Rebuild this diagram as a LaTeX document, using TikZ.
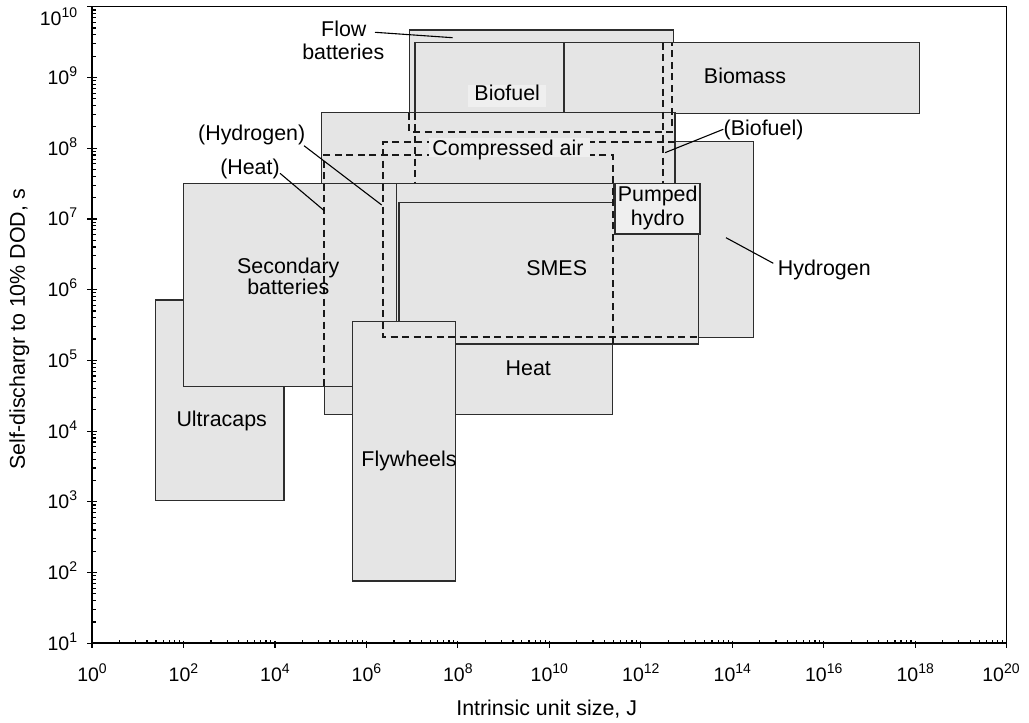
\documentclass[tikz,border=0pt]{standalone}
\usepackage{fontspec}
\setmainfont{Liberation Sans}
\definecolor{boxfill}{RGB}{229,229,229}
\definecolor{lightfill}{RGB}{239,239,239}
\definecolor{boxline}{RGB}{45,45,45}
\newcommand{\lblfont}{\fontsize{10.7}{12}\selectfont}
\newcommand{\tickfont}{\fontsize{9.75}{11}\selectfont}
\newcommand{\tenp}[1]{10\raisebox{4pt}{\fontsize{7}{8}\selectfont #1}}
\begin{document}
\begin{tikzpicture}[x=0.5pt,y=-0.5pt,
  box/.style={fill=boxfill,draw=boxline,line width=0.7pt},
  edge/.style={draw=boxline,line width=0.7pt},
  hid/.style={draw=black!90,line width=0.9pt,dash pattern=on 3.5pt off 2.25pt},
  lbl/.style={font=\lblfont,inner sep=0pt,anchor=base},
  leader/.style={draw=black,line width=0.55pt},
  tick/.style={draw=black,line width=0.6pt},
  ticklbl/.style={font=\tickfont,inner sep=0pt}]
\useasboundingbox (0,0) rectangle (1029,723);

% ---- boxes, back to front ----
\path[box] (383.3,141.7) rectangle (753.3,337.3); % hydrogen
\path[box] (409.3,30) rectangle (673.3,131.7);    % flow batteries
\path[box] (415,42.7) rectangle (663.3,183.3);    % biofuel
\path[box] (564,42.7) rectangle (919.3,113.3);    % biomass
\path[box] (324.3,155) rectangle (612.7,414.3);   % heat
\path[box] (321.7,112.7) rectangle (675,183.3);   % compressed air
\path[box] (155.7,300) rectangle (284,500.3);     % ultracaps
\path[box] (183.3,183.3) rectangle (396.7,386.7); % secondary batteries
\path[box] (396.7,183.3) rectangle (698.3,344);   % pumped hydro
\fill[boxfill] (399,202.7) rectangle (613.3,337); % SMES
\draw[edge] (399,321.7) -- (399,202.7) -- (613.3,202.7) -- (613.3,183.3);
\path[box] (352.7,321.7) rectangle (455.7,581);   % flywheels
\path[box,fill=lightfill] (615,183.3) rectangle (700,234); % pumped hydro label box

% ---- hidden edges ----
\draw[hid] (409.3,112.7) -- (409.3,131.7) -- (672.3,131.7) -- (672.3,42.7);
\draw[hid] (415,112.7) -- (415,183.3);
\draw[hid] (663.3,42.7) -- (663.3,183.3);
\draw[hid] (675,141.7) -- (383.3,141.7) -- (383.3,337.3) -- (698.3,337.3);
\draw[hid] (612.7,344) -- (612.7,155) -- (324.3,155) -- (324.3,386.7);

% ---- label backgrounds ----
\fill[lightfill] (429,138) rectangle (590,157);
\fill[lightfill] (468,85) rectangle (546,106.7);

% ---- box labels ----
\node[lbl] (ucap) at (221.7,426) {Ultracaps};
\node[lbl] (sec1) at (288.3,273.5) {Secondary};
\node[lbl] (sec2) at (288.3,294.3) {batteries};
\node[lbl] (smes) at (556.7,275) {SMES};
\node[lbl] (heat) at (528.3,375) {Heat};
\node[lbl] (fly) at (409,466.7) {Flywheels};
\node[lbl] (ph1) at (657.7,201.7) {Pumped};
\node[lbl] (ph2) at (657.7,225) {hydro};
\node[lbl] (cair) at (508,155) {Compressed air};
\node[lbl] (bfl) at (507.2,100.7) {Biofuel};
\node[lbl] (bms) at (745,83.3) {Biomass};
\node[lbl,anchor=base west] (hyd) at (777.5,275.3) {Hydrogen};
\node[lbl,anchor=base west] (pbfl) at (723.3,135) {(Biofuel)};
\node[lbl] (phyd) at (251.7,140) {(Hydrogen)};
\node[lbl] (pheat) at (250,174.3) {(Heat)};
\node[lbl] (flow1) at (343.8,36.7) {Flow};
\node[lbl] (flow2) at (343.3,59.3) {batteries};

% ---- leaders ----
\coordinate (fA) at (375,32.3);    \coordinate (fB) at (452.7,37.7);
\coordinate (hA) at (304,145.7);   \coordinate (hB) at (381.7,205);
\coordinate (tA) at (280,173.3);   \coordinate (tB) at (324.3,210.7);
\coordinate (bA) at (723.3,129.3); \coordinate (bB) at (665,152.7);
\coordinate (yA) at (726,237.7);   \coordinate (yB) at (773.3,263.3);
\draw[leader] (fA) -- (fB);
\draw[leader] (hA) -- (hB);
\draw[leader] (tA) -- (tB);
\draw[leader] (bA) -- (bB);
\draw[leader] (yA) -- (yB);

% ---- frame and axes ----
\draw[line width=0.6pt] (91.7,6.7) -- (1006.7,6.7) -- (1006.7,643.3);
\draw[line width=1pt] (91.7,6.7) -- (91.7,643.3) -- (1006.7,643.3);

% y ticks
\foreach \d in {1,...,10}{
  \pgfmathsetmacro{\yy}{643.3-(\d-1)*70.733}
  \draw[tick] (87.3,\yy) -- (96.7,\yy);
}
\foreach \d in {1,...,9}{
  \foreach \k in {2,...,9}{
    \pgfmathsetmacro{\yy}{643.3-(\d-1)*70.733-70.733*ln(\k)/ln(10)}
    \draw[tick] (91.7,\yy) -- (95.7,\yy);
  }
}
\foreach \d in {1,...,9}{
  \pgfmathsetmacro{\yy}{643.3-(\d-1)*70.733+7}
  \node[ticklbl,anchor=base east] (yl\d) at (77.5,\yy) {\tenp{\d}};
}
\node[ticklbl,anchor=base east] (yl10) at (77.5,25.3) {\tenp{10}};

% x ticks
\foreach \i in {0,...,10}{
  \pgfmathsetmacro{\xx}{92+\i*91.47}
  \draw[tick] (\xx,640.7) -- (\xx,648.3);
}
\foreach \i in {0,...,9}{
  \foreach \k in {2,...,9}{
    \pgfmathsetmacro{\xx}{92+\i*91.47+91.47*ln(\k)/ln(10)}
    \draw[tick] (\xx,643.3) -- (\xx,639.7);
  }
}
\foreach \i in {0,...,9}{
  \pgfmathsetmacro{\xx}{92+\i*91.47}
  \pgfmathtruncatemacro{\ex}{2*\i}
  \node[ticklbl,anchor=base] (xl\i) at (\xx,681.7) {\tenp{\ex}};
}
\node[ticklbl,anchor=base] (xl10) at (1001,681.7) {\tenp{20}};

% axis titles
\node[lbl] (xt) at (546.7,715) {Intrinsic unit size, J};
\node[lbl,rotate=90] (yt) at (25,329.3) {Self-dischargr to 10\% DOD, s};
\end{tikzpicture}
\end{document}
